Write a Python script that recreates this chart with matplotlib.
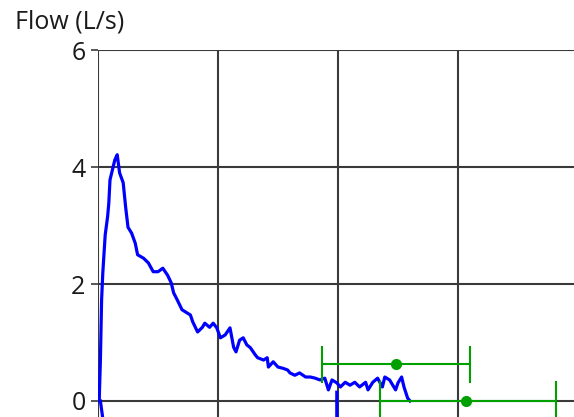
import matplotlib
matplotlib.use("Agg")
import matplotlib.pyplot as plt

plt.rcParams['font.family'] = ['Open Sans', 'DejaVu Sans']

# expiratory limb of the flow-volume loop (volume in L, flow in L/s)
exp_volume = [0.01, 0.02, 0.03, 0.04, 0.06, 0.08, 0.09, 0.10, 0.12, 0.14,
              0.16, 0.18, 0.21, 0.23, 0.25, 0.28, 0.31, 0.33, 0.38, 0.42,
              0.46, 0.50, 0.54, 0.58, 0.61, 0.63, 0.66, 0.70, 0.77, 0.79,
              0.83, 0.87, 0.89, 0.93, 0.96, 0.99, 1.02, 1.06, 1.10, 1.13,
              1.15, 1.18, 1.21, 1.24, 1.27, 1.31, 1.33, 1.38, 1.41, 1.42,
              1.46, 1.50, 1.54, 1.58, 1.60, 1.64, 1.68, 1.73, 1.77, 1.81,
              1.85, 1.89, 1.92, 1.95, 1.99, 2.02, 2.06, 2.10, 2.14, 2.18,
              2.23, 2.25, 2.29, 2.33, 2.37, 2.39, 2.43, 2.48, 2.50, 2.53,
              2.55, 2.58, 2.60]
exp_flow = [0.00, 0.70, 1.73, 2.19, 2.84, 3.15, 3.38, 3.78, 3.95, 4.12,
            4.21, 3.90, 3.73, 3.32, 2.97, 2.87, 2.70, 2.50, 2.44, 2.36,
            2.21, 2.21, 2.27, 2.15, 2.02, 1.85, 1.73, 1.56, 1.47, 1.35,
            1.18, 1.26, 1.33, 1.26, 1.33, 1.25, 1.08, 1.13, 1.25, 0.92,
            0.84, 1.04, 1.08, 0.96, 0.91, 0.79, 0.74, 0.70, 0.74, 0.58,
            0.67, 0.58, 0.56, 0.53, 0.48, 0.44, 0.48, 0.41, 0.41, 0.39,
            0.36, 0.39, 0.19, 0.36, 0.31, 0.24, 0.32, 0.27, 0.32, 0.24,
            0.32, 0.19, 0.32, 0.39, 0.24, 0.41, 0.36, 0.19, 0.31, 0.41,
            0.24, 0.05, 0.00]

# inspiratory limb (mostly below the visible window)
insp_volume = [1.99, 1.99, 1.90, 1.00, 0.10, 0.06, 0.02]
insp_flow = [0.15, -0.80, -1.50, -1.80, -1.20, -0.60, 0.00]

# predicted values: volume, flow, volume spread, flow whisker
pred_volume = [2.48, 3.07]
pred_flow = [0.63, 0.00]
pred_vol_lo = [1.87, 2.35]
pred_vol_hi = [3.10, 3.82]
pred_whisker = [0.30, 0.33]

W, H = 574, 417
fig = plt.figure(figsize=(W / 100, H / 100), dpi=100)
# the axes run past the right and bottom edges of the figure
x0, y_top = 98, 50
px_per_l, px_per_flow = 120, 58.5
xmax, ymin, ymax = 5, -2, 6
ax = fig.add_axes([x0 / W, (H - y_top - (ymax - ymin) * px_per_flow) / H,
                   xmax * px_per_l / W, (ymax - ymin) * px_per_flow / H])
ax.set_xlim(0, xmax)
ax.set_ylim(ymin, ymax)

grid_c = '#3a3a3a'
for v in range(0, xmax + 1):
    ax.axvline(v, color=grid_c, lw=1.5, zorder=1)
for f in range(0, ymax + 1, 2):
    ax.axhline(f, color=grid_c, lw=1.5, zorder=1)

ax.plot(exp_volume, exp_flow, color='#0000ff', lw=2.3, zorder=3)
ax.plot(insp_volume, insp_flow, color='#0000ff', lw=2.3, zorder=3)

green = '#00a000'
for v, f, lo, hi, w in zip(pred_volume, pred_flow, pred_vol_lo, pred_vol_hi,
                           pred_whisker):
    ax.plot([lo, hi], [f, f], color=green, lw=1.5, zorder=4)
    ax.plot([lo, lo], [f - w, f + w], color=green, lw=1.5, zorder=4)
    ax.plot([hi, hi], [f - w, f + w], color=green, lw=1.5, zorder=4)
    ax.plot([v], [f], 'o', color=green, ms=7, zorder=5)

for s in ax.spines.values():
    s.set_visible(False)
ax.set_yticks([0, 2, 4, 6])
ax.set_xticks([])
ax.tick_params(axis='y', length=5, width=1.2, color=grid_c, pad=4,
               labelsize=18, labelcolor='#1a1a1a')

fig.text(15 / W, 1 - 22 / H, 'Flow (L/s)', fontsize=18, color='#1a1a1a',
         ha='left', va='center')

fig.savefig('out.png', dpi=100)
